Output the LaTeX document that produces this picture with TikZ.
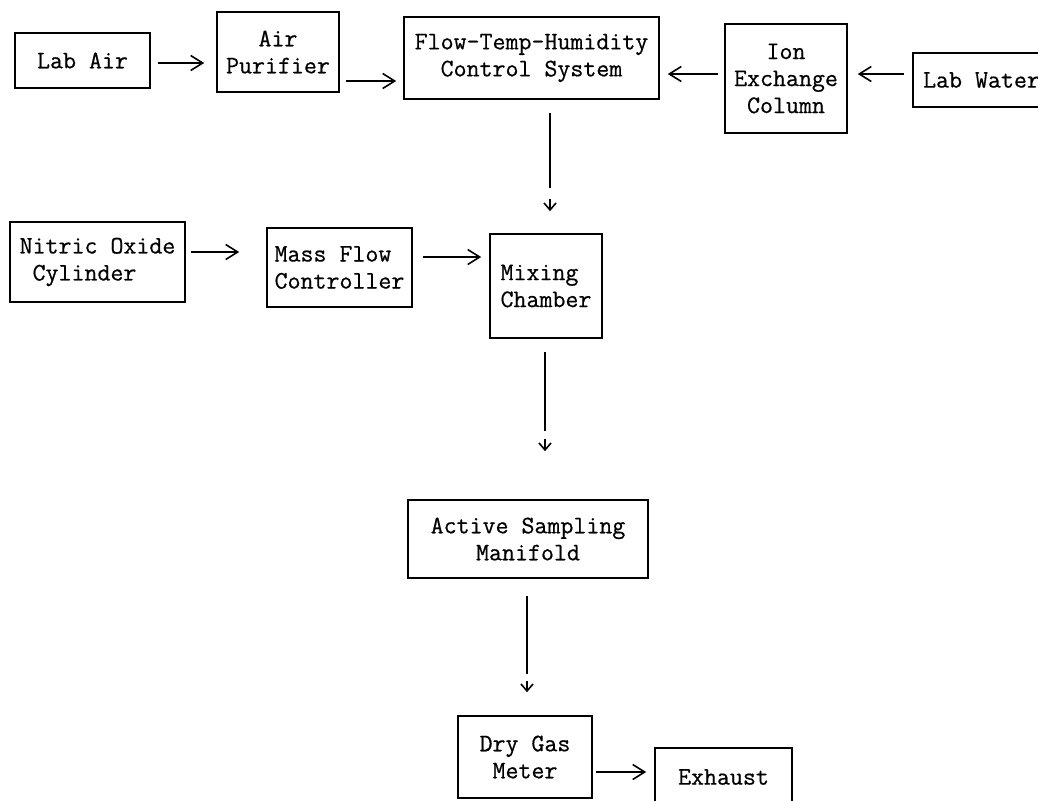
\documentclass[tikz,border=0pt]{standalone}
\usepackage{fontspec}
\usepackage{tikz}
\usetikzlibrary{arrows.meta}

\newfontfamily\typerfont{Latin Modern Mono}[FakeBold=0.6]
\newcommand\boxfont{\fontsize{12.6}{13.5}\selectfont\typerfont}

\begin{document}
\begin{tikzpicture}[x=0.5pt,y=-0.5pt,line width=0.8pt,
  box/.style={draw,inner sep=0pt,font=\boxfont},
  feed/.style={-{Straight Barb[length=6pt,width=7.5pt]}},
  drop/.style={-{Straight Barb[length=3.5pt,width=6pt]}}]
\useasboundingbox (0,0) rectangle (1038,800);
\node[box,minimum width=67.5pt,minimum height=27.5pt] (labair) at (82.5,60.5) {Lab Air};
\node[box,align=center,minimum width=61pt,minimum height=40pt] (purifier) at (278,52) {Air\\Purifier};
\node[box,align=center,minimum width=127.5pt,minimum height=41pt] (flow) at (531.5,58) {Flow-Temp-Humidity\\Control System};
\node[box,align=center,minimum width=61pt,minimum height=54.5pt] (ion) at (786,78.5) {Ion\\Exchange\\Column};
\node[box,minimum width=68.5pt,minimum height=27pt] (labwater) at (981.5,80) {Lab Water};
\node[box,align=left,minimum width=87.5pt,minimum height=40pt] (nitric) at (97.5,262) {Nitric Oxide\\\ Cylinder};
\node[box,align=left,minimum width=72.5pt,minimum height=39.5pt] (mfc) at (339.5,267.5) {Mass Flow\\Controller};
\node[box,align=left,minimum width=56pt,minimum height=52pt] (mix) at (546,286) {Mixing\\Chamber};
\node[box,align=center,minimum width=120pt,minimum height=39pt] (manifold) at (528,539) {Active Sampling\\Manifold};
\node[box,align=center,minimum width=67pt,minimum height=41pt] (meter) at (525,757) {Dry Gas\\Meter};
\node[box,minimum width=68.5pt,minimum height=29pt] (exhaust) at (723.5,777) {Exhaust};
\draw[feed,shorten <=3.5pt,shorten >=6pt] (labair.east |- 0,63) -- (purifier.west |- 0,63);
\draw[feed,shorten <=3pt,shorten >=3.5pt] (purifier.east |- 0,81) -- (flow.west |- 0,81);
\draw[feed,shorten <=3pt,shorten >=4pt] (ion.west |- 0,74) -- (flow.east |- 0,74);
\draw[feed,shorten <=4pt,shorten >=5pt] (labwater.west |- 0,74) -- (ion.east |- 0,74);
\draw[feed,shorten <=2.5pt,shorten >=13.5pt] (nitric.east |- 0,252) -- (mfc.west |- 0,252);
\draw[feed,shorten <=5pt,shorten >=4pt] (mfc.east |- 0,257) -- (mix.west |- 0,257);
\draw[feed,shorten <=1.5pt,shorten >=4pt] (meter.east |- 0,772) -- (exhaust.west |- 0,772);
\draw[drop,shorten <=6.5pt,shorten >=11pt,dash pattern=on 37.5pt off 5.5pt on 30pt] (flow.south -| 550,0) -- (mix.north -| 550,0);
\draw[drop,shorten <=6.5pt,shorten >=24pt,dash pattern=on 39.5pt off 4pt on 30pt] (mix.south -| 545,0) -- (manifold.north -| 545,0);
\draw[drop,shorten <=8.5pt,shorten >=11.5pt,dash pattern=on 39pt off 3.5pt on 30pt] (manifold.south -| 527,0) -- (meter.north -| 527,0);
\end{tikzpicture}
\end{document}
